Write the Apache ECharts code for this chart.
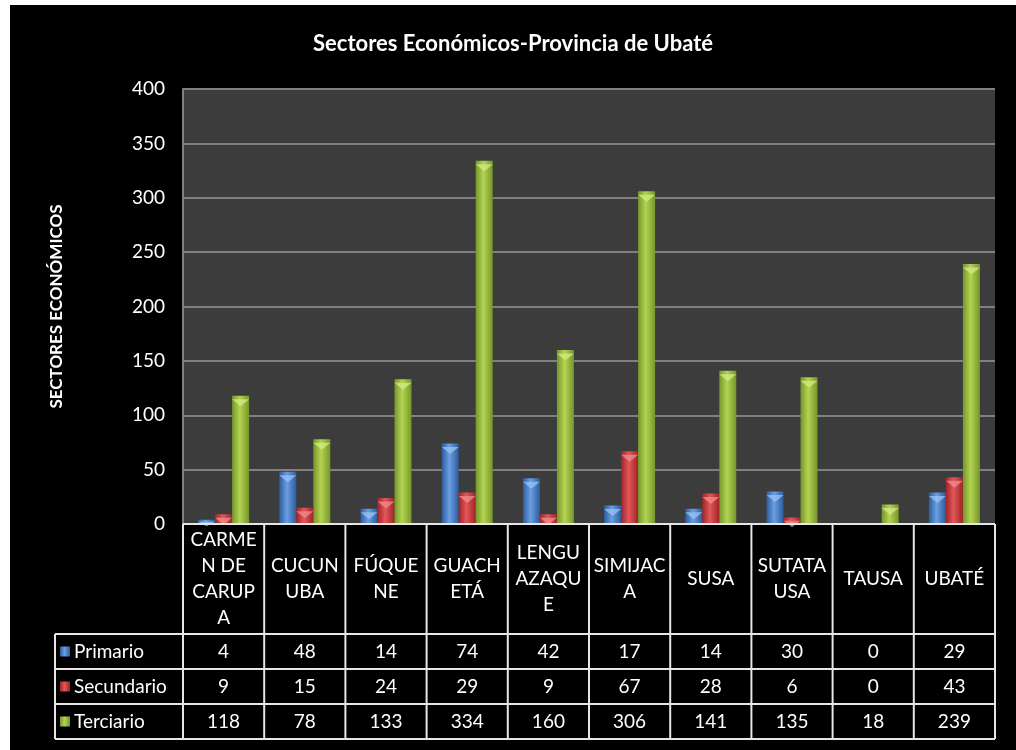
<!DOCTYPE html>
<html>
<head>
<meta charset="utf-8">
<script src="https://cdn.jsdelivr.net/npm/echarts@6/dist/echarts.min.js"></script>
<style>
  html, body { margin: 0; padding: 0; background: #ffffff; width: 1016px; height: 750px; overflow: hidden; }
  #c { position: absolute; left: 10px; top: 5px; width: 1006px; height: 745px; background: #000000; }
</style>
</head>
<body>
<div id="c"></div>
<script>
// ---- data ----
const categories = ["CARMEN DE CARUPA", "CUCUNUBA", "FÚQUENE", "GUACHETÁ", "LENGUAZAQUE", "SIMIJACA", "SUSA", "SUTATAUSA", "TAUSA", "UBATÉ"];
const categoryLabels = ["CARME\nN DE\nCARUP\nA", "CUCUN\nUBA", "FÚQUE\nNE", "GUACH\nETÁ", "LENGU\nAZAQU\nE", "SIMIJAC\nA", "SUSA", "SUTATA\nUSA", "TAUSA", "UBATÉ"];
const seriesNames = ["Primario", "Secundario", "Terciario"];
const primario = [4, 48, 14, 74, 42, 17, 14, 30, 0, 29];
const secundario = [9, 15, 24, 29, 9, 67, 28, 6, 0, 43];
const terciario = [118, 78, 133, 334, 160, 306, 141, 135, 18, 239];
const yTicks = [0, 50, 100, 150, 200, 250, 300, 350, 400];
const titleText = "Sectores Económicos-Provincia de Ubaté";
const yAxisName = "SECTORES ECONÓMICOS";

// ---- style ----
const FONT = "Lato, 'Liberation Sans', sans-serif";
const FS = 19;
function grad(edge, mid) {
  return new echarts.graphic.LinearGradient(0, 0, 1, 0, [
    { offset: 0, color: edge }, { offset: 0.45, color: mid }, { offset: 1, color: edge }
  ]);
}
const palettes = [
  ["#2c5c9c", "#6b9fe2"],
  ["#a02426", "#e2575a"],
  ["#76962a", "#b3d452"]
];
const capColors = ["#9cc4f5", "#f08e90", "#d3ec86"];
const allSeries = [primario, secundario, terciario];

const chart = echarts.init(document.getElementById('c'));

const plotHeightPx = 435; // grid height below, used only to size the bar caps
const barSeries = allSeries.map((d, i) => ({
  name: seriesNames[i], type: 'bar', data: d, barWidth: 17, barGap: '0%',
  itemStyle: { color: grad(palettes[i][0], palettes[i][1]) }, z: 2
}));
const capSeries = allSeries.map((d, i) => ({
  name: seriesNames[i] + ' cap', type: 'pictorialBar', barWidth: 17, barGap: '0%',
  symbol: 'path://M0,0 L20,0 L10,8 Z', symbolPosition: 'end',
  symbolOffset: [0, '50%'], z: 3, silent: true,
  itemStyle: { color: capColors[i], opacity: 0.75 },
  data: d.map(v => ({ value: v, symbolSize: [17, v > 0 ? Math.min(7, v * plotHeightPx / 400) : 0] }))
}));

const baseOption = {
  backgroundColor: '#000000',
  animation: false,
  title: {
    text: titleText, left: 'center', top: 23,
    textStyle: { color: '#ffffff', fontFamily: FONT, fontSize: 22, fontWeight: 'bold' }
  },
  grid: { left: 173, top: 84, right: 21, bottom: 226, show: true, backgroundColor: '#3c3c3c', borderWidth: 0 },
  xAxis: {
    type: 'category', data: categories,
    axisLine: { show: false }, axisTick: { show: false }, axisLabel: { show: false }
  },
  yAxis: {
    type: 'value', min: yTicks[0], max: yTicks[yTicks.length - 1], interval: 50,
    name: yAxisName, nameLocation: 'middle', nameGap: 118, nameRotate: 90,
    nameTextStyle: { color: '#ffffff', fontFamily: FONT, fontSize: 17, fontWeight: 'bold' },
    axisLine: { show: true, lineStyle: { color: '#808080', width: 2 } },
    axisTick: { show: false },
    axisLabel: { color: '#ffffff', fontFamily: FONT, fontSize: FS, margin: 18 },
    splitLine: { show: true, lineStyle: { color: '#808080', width: 2 } }
  },
  series: barSeries.concat(capSeries)
};
chart.setOption(baseOption);

// ---- data table (built from the arrays) ----
const tableTop = 519, headerBottom = 629, rowH = 35, tableLeft = 45;
const plotLeft = 173, plotRight = 985;
const colW = (plotRight - plotLeft) / categories.length;
const lineColor = '#e6e6e6';
const g = [];
const nRows = seriesNames.length;
const tableBottom = headerBottom + nRows * rowH;

g.push({ type: 'line', shape: { x1: plotLeft, y1: tableTop, x2: plotRight, y2: tableTop }, style: { stroke: lineColor, lineWidth: 2 }, z: 100 });
for (let r = 0; r <= nRows; r++) {
  const y = headerBottom + r * rowH;
  g.push({ type: 'line', shape: { x1: tableLeft, y1: y, x2: plotRight, y2: y }, style: { stroke: lineColor, lineWidth: 2 }, z: 100 });
}
g.push({ type: 'line', shape: { x1: tableLeft, y1: headerBottom, x2: tableLeft, y2: tableBottom }, style: { stroke: lineColor, lineWidth: 2 }, z: 100 });
for (let c = 0; c <= categories.length; c++) {
  const x = plotLeft + c * colW;
  g.push({ type: 'line', shape: { x1: x, y1: tableTop, x2: x, y2: tableBottom }, style: { stroke: lineColor, lineWidth: 2 }, z: 100 });
}
categories.forEach((cat, i) => {
  const cx = chart.convertToPixel({ xAxisIndex: 0 }, cat);
  g.push({ type: 'text', x: cx, y: (tableTop + headerBottom) / 2, z: 101,
    style: { text: categoryLabels[i], fill: '#ffffff', font: FS + 'px ' + FONT, align: 'center', verticalAlign: 'middle', lineHeight: 26 } });
});
seriesNames.forEach((name, r) => {
  const cy = headerBottom + r * rowH + rowH / 2;
  g.push({ type: 'rect', shape: { x: 50, y: cy - 5, width: 10, height: 10 }, z: 101,
    style: { fill: grad(palettes[r][0], palettes[r][1]) } });
  g.push({ type: 'text', x: 64, y: cy, z: 101,
    style: { text: name, fill: '#ffffff', font: FS + 'px ' + FONT, align: 'left', verticalAlign: 'middle' } });
  allSeries[r].forEach((v, i) => {
    const cx = chart.convertToPixel({ xAxisIndex: 0 }, categories[i]);
    g.push({ type: 'text', x: cx, y: cy, z: 101,
      style: { text: String(v), fill: '#ffffff', font: FS + 'px ' + FONT, align: 'center', verticalAlign: 'middle' } });
  });
});
chart.setOption({ graphic: g });
</script>
</body>
</html>
